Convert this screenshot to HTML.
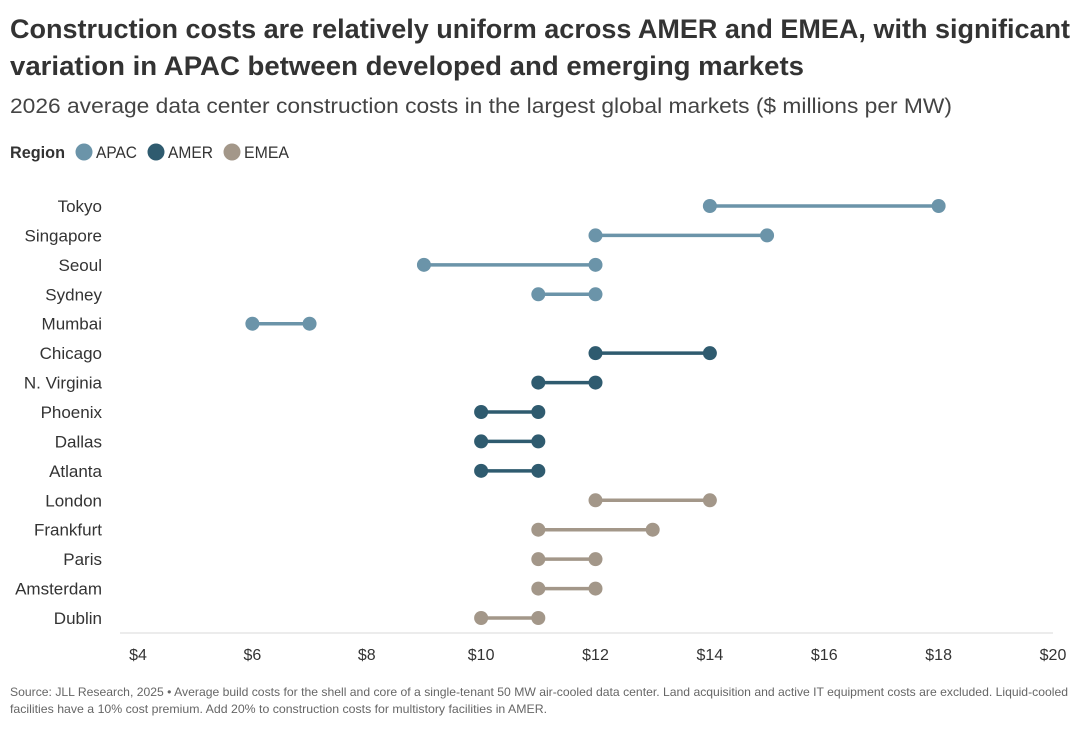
<!DOCTYPE html>
<html><head><meta charset="utf-8"><style>
body{margin:0;background:#fff}
svg text{font-family:"Liberation Sans",sans-serif}
</style></head><body>
<svg id="chart" width="1080" height="724" viewBox="0 0 1080 724" xmlns="http://www.w3.org/2000/svg">
<text x="10" y="38" font-size="27" font-weight="bold" fill="#333" textLength="1060" lengthAdjust="spacingAndGlyphs">Construction costs are relatively uniform across AMER and EMEA, with significant</text>
<text x="10" y="75" font-size="27" font-weight="bold" fill="#333" textLength="794" lengthAdjust="spacingAndGlyphs">variation in APAC between developed and emerging markets</text>
<text x="10" y="113" font-size="21" fill="#444" textLength="942" lengthAdjust="spacingAndGlyphs">2026 average data center construction costs in the largest global markets ($ millions per MW)</text>
<g>
<text x="10" y="158" font-size="17" font-weight="bold" fill="#333" textLength="55" lengthAdjust="spacingAndGlyphs">Region</text>
<circle cx="84" cy="152" r="8.5" fill="#6b94a9"/>
<text x="96" y="158" font-size="17" fill="#333" textLength="41" lengthAdjust="spacingAndGlyphs">APAC</text>
<circle cx="156" cy="152" r="8.5" fill="#2f5b6f"/>
<text x="168" y="158" font-size="17" fill="#333" textLength="45" lengthAdjust="spacingAndGlyphs">AMER</text>
<circle cx="232" cy="152" r="8.5" fill="#a39789"/>
<text x="244" y="158" font-size="17" fill="#333" textLength="45" lengthAdjust="spacingAndGlyphs">EMEA</text>
</g>
<line x1="120" y1="633" x2="1053" y2="633" stroke="#e6e6e6" stroke-width="1.5"/>
<g id="marks"></g>
<text x="10" y="696" font-size="12" fill="#666" textLength="1058" lengthAdjust="spacingAndGlyphs">Source: JLL Research, 2025 • Average build costs for the shell and core of a single-tenant 50 MW air-cooled data center. Land acquisition and active IT equipment costs are excluded. Liquid-cooled</text>
<text x="10" y="713" font-size="12" fill="#666" textLength="537" lengthAdjust="spacingAndGlyphs">facilities have a 10% cost premium. Add 20% to construction costs for multistory facilities in AMER.</text>
</svg>
<script>
const markets=["Tokyo","Singapore","Seoul","Sydney","Mumbai","Chicago","N. Virginia","Phoenix","Dallas","Atlanta","London","Frankfurt","Paris","Amsterdam","Dublin"];
const regions=["APAC","APAC","APAC","APAC","APAC","AMER","AMER","AMER","AMER","AMER","EMEA","EMEA","EMEA","EMEA","EMEA"];
const lowValues=[14,12,9,11,6,12,11,10,10,10,12,11,11,11,10];
const highValues=[18,15,12,12,7,14,12,11,11,11,14,13,12,12,11];
const ticks=[4,6,8,10,12,14,16,18,20];
const colors={APAC:"#6b94a9",AMER:"#2f5b6f",EMEA:"#a39789"};
const NS="http://www.w3.org/2000/svg";
const x=v=>138+(v-4)*(1053-138)/16;
const y=i=>206+i*(618-206)/14;
const g=document.getElementById('marks');
function mk(t,a){const e=document.createElementNS(NS,t);for(const k in a)e.setAttribute(k,a[k]);g.appendChild(e);return e;}
ticks.forEach(t=>{const e=mk('text',{x:x(t),y:660,'font-size':16,fill:'#333','text-anchor':'middle'});e.textContent='$'+t;

});
markets.forEach((m,i)=>{
const c=colors[regions[i]];
const l=mk('text',{x:102,y:y(i)+6,'font-size':17,fill:'#333','text-anchor':'end'});l.textContent=m;


const ln=mk('line',{x1:x(lowValues[i]),x2:x(highValues[i]),y1:y(i),y2:y(i),stroke:c,'stroke-width':3.5});


const a=mk('circle',{cx:x(lowValues[i]),cy:y(i),r:7,fill:c});


const b=mk('circle',{cx:x(highValues[i]),cy:y(i),r:7,fill:c});


});
</script>
</body></html>
